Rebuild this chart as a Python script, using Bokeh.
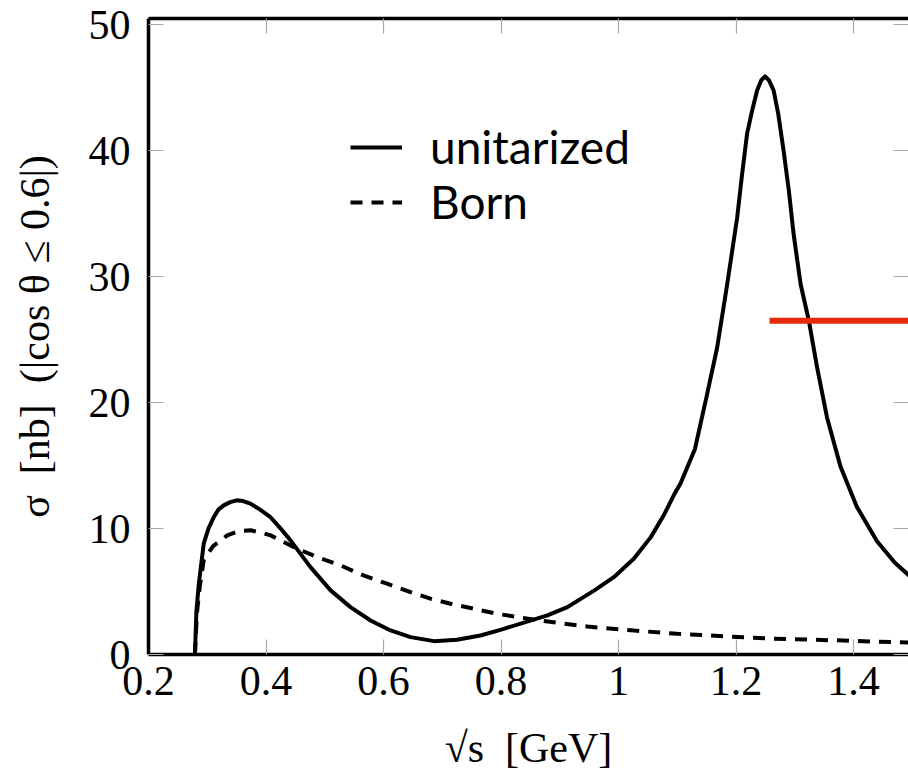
from bokeh.plotting import figure
from bokeh.models import Range1d, LinearAxis, FixedTicker, Legend, LegendItem
from bokeh.embed import file_html
from bokeh.resources import INLINE

# ---- data ----
unit_x = [0.279, 0.2815, 0.2856, 0.294, 0.302, 0.311, 0.319, 0.328, 0.339, 0.35,
          0.361, 0.3736, 0.39, 0.4077, 0.425, 0.4417, 0.4757, 0.51, 0.5438, 0.578,
          0.612, 0.646, 0.686, 0.725, 0.765, 0.799, 0.879, 0.913, 0.959, 0.992,
          1.026, 1.055, 1.077, 1.094, 1.1055, 1.13, 1.15, 1.168, 1.185, 1.202,
          1.21, 1.219, 1.228, 1.236, 1.243, 1.2495, 1.256, 1.264, 1.272, 1.281,
          1.29, 1.298, 1.31, 1.324, 1.338, 1.355, 1.378, 1.406, 1.44, 1.47,
          1.494, 1.5]
unit_y = [0.0, 3.4, 5.6, 8.8, 10.0, 10.9, 11.5, 11.84, 12.1, 12.24,
          12.18, 11.98, 11.5, 10.9, 10.0, 9.06, 6.94, 5.09, 3.76, 2.70,
          1.91, 1.38, 1.06, 1.17, 1.51, 1.96, 3.1, 3.76, 5.09, 6.14,
          7.6, 9.32, 11.05, 12.64, 13.57, 16.3, 20.5, 24.4, 29.4, 34.7,
          38.0, 41.4, 43.3, 44.8, 45.6, 45.9, 45.6, 44.8, 42.9, 40.0,
          36.8, 33.4, 29.4, 26.5, 22.8, 18.8, 14.9, 11.7, 9.0, 7.3,
          6.3, 6.0]

born_x = [0.279, 0.2825, 0.287, 0.294, 0.31, 0.334, 0.354, 0.374, 0.39, 0.408,
          0.447, 0.487, 0.527, 0.566, 0.606, 0.646, 0.68, 0.714, 0.754, 0.7935,
          0.866, 0.947, 1.027, 1.10, 1.264, 1.383, 1.469, 1.5]
born_y = [0.0, 3.3, 5.3, 7.5, 8.6, 9.46, 9.8, 9.86, 9.7, 9.46,
          8.53, 7.73, 7.07, 6.28, 5.62, 4.95, 4.43, 4.03, 3.63, 3.23,
          2.70, 2.22, 1.9, 1.64, 1.25, 1.11, 0.98, 0.95]

mark_x = [1.257, 1.5]
mark_y = [26.5, 26.5]

x_ticks = [0.2, 0.4, 0.6, 0.8, 1.0, 1.2, 1.4]
x_tick_labels = ["0.2", "0.4", "0.6", "0.8", "1", "1.2", "1.4"]
y_ticks = [0, 10, 20, 30, 40, 50]
y_tick_labels = ["0", "10", "20", "30", "40", "50"]

series_labels = ["unitarized", "Born"]
x_title = "√s\u2002[GeV]"
y_title = "σ\u2002[nb]\u2002(|cos θ\u2005≤\u20050.6|)"

# ---- figure ----
p = figure(width=908, height=775, output_backend="svg", toolbar_location=None,
           x_range=Range1d(0.2, 1.4936), y_range=Range1d(0, 50.5),
           x_axis_location=None, y_axis_location=None,
           min_border_left=148, min_border_right=0, min_border_top=18,
           min_border_bottom=121)
p.outline_line_color = None
p.xgrid.visible = False
p.ygrid.visible = False
p.background_fill_color = "white"
p.border_fill_color = "white"

TICK = "#a8a8a8"
SERIF = "Liberation Serif"


def style_axis(ax, ticks, labels, show_labels):
    ax.ticker = FixedTicker(ticks=ticks)
    ax.minor_tick_line_color = None
    ax.major_tick_in = 15
    ax.major_tick_out = 0
    ax.major_tick_line_color = TICK
    ax.major_tick_line_width = 1.2
    ax.axis_line_color = "black"
    ax.axis_line_width = 3.5
    if show_labels:
        ax.major_label_overrides = dict(zip(ticks, labels))
        ax.major_label_text_font = SERIF
        ax.major_label_text_font_size = "42px"
        ax.major_label_text_color = "black"
    else:
        ax.major_label_text_font_size = "0px"
        ax.major_label_text_color = None
        ax.major_label_standoff = 0


bottom = LinearAxis(axis_label=x_title)
style_axis(bottom, x_ticks, x_tick_labels, True)
bottom.major_label_standoff = 12
bottom.axis_label_text_font = SERIF
bottom.axis_label_text_font_size = "42px"
bottom.axis_label_text_font_style = "normal"
bottom.axis_label_text_color = "black"
bottom.axis_label_standoff = 27
p.add_layout(bottom, "below")

left = LinearAxis(axis_label=y_title)
style_axis(left, y_ticks, y_tick_labels, True)
left.major_label_standoff = 18
left.axis_label_text_font = SERIF
left.axis_label_text_font_size = "42px"
left.axis_label_text_font_style = "normal"
left.axis_label_text_color = "black"
left.axis_label_standoff = 28
p.add_layout(left, "left")

top = LinearAxis()
style_axis(top, x_ticks, x_tick_labels, False)
p.add_layout(top, "above")

right = LinearAxis()
style_axis(right, y_ticks, y_tick_labels, False)
right.axis_line_color = None
p.add_layout(right, "right")

# ---- curves ----
r_unit = p.line(unit_x, unit_y, line_color="black", line_width=4,
                line_join="round")
r_born = p.line(born_x, born_y, line_color="black", line_width=4,
                line_dash="12 9")
p.line(mark_x, mark_y, line_color="#e5290b", line_width=6)

legend = Legend(items=[LegendItem(label=series_labels[0], renderers=[r_unit]),
                       LegendItem(label=series_labels[1], renderers=[r_born])],
                location=(202, 425))
legend.border_line_color = None
legend.background_fill_alpha = 0
legend.padding = 0
legend.margin = 0
legend.spacing = 0
legend.glyph_width = 52
legend.glyph_height = 40
legend.label_height = 40
legend.label_standoff = 28
legend.label_text_font = "Lato"
legend.label_text_font_size = "46px"
legend.label_text_color = "black"
p.add_layout(legend, "center")

open("out.html", "w").write(file_html(p, INLINE))
